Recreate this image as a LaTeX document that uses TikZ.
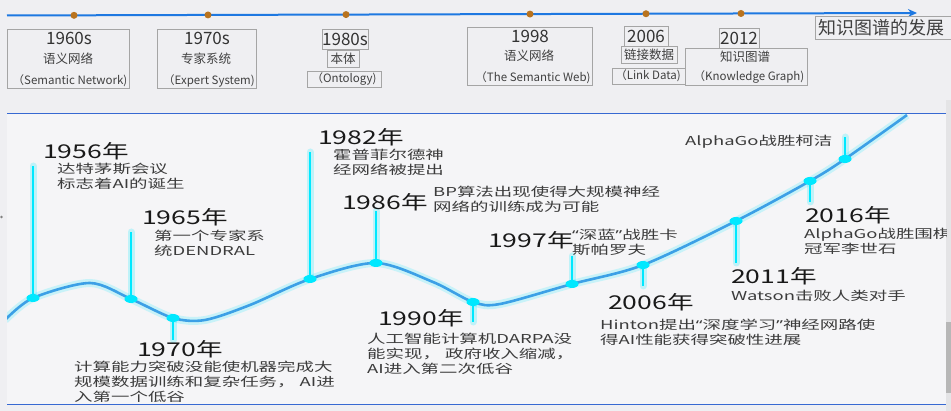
\documentclass[tikz,border=0pt]{standalone}
\usepackage{fontspec}
\setmainfont{Noto Sans CJK SC}
\newfontfamily\widefont[FakeStretch=1.5]{Noto Sans CJK SC}
\newfontfamily\yearfont[FakeStretch=1.4]{Noto Sans CJK SC}
\newfontfamily\quotefont[FakeStretch=1.5]{Noto Sans}
\newcommand\openq{{\quotefont “}}
\newcommand\closeq{{\quotefont ”}}
\usetikzlibrary{arrows.meta,shapes.geometric}
\definecolor{bgtop}{RGB}{239,239,242}
\definecolor{bgpanel}{RGB}{245,245,247}
\definecolor{boxgray}{RGB}{165,165,165}
\definecolor{lineblue}{RGB}{30,120,225}
\definecolor{panelblue}{RGB}{55,105,210}
\definecolor{dotbrown}{RGB}{185,115,30}
\definecolor{curveblue}{RGB}{60,160,230}
\definecolor{stemcyan}{RGB}{0,232,255}
\definecolor{txtgray}{RGB}{60,60,60}
\definecolor{stripgray}{RGB}{228,228,230}
\begin{document}
\begin{tikzpicture}[
    x=1pt, y=-1pt,
    framebox/.style={draw=boxgray, line width=0.8pt, inner sep=0pt},
    eralbl/.style={inner sep=0pt, text=black!80, font=\fontsize{17}{18}\selectfont},
    cnlbl/.style={inner sep=0pt, text=black!75, font=\fontsize{12.5}{13}\selectfont},
    enlbl/.style={inner sep=0pt, text=black!75, font=\fontsize{11.5}{12}\selectfont},
    topdot/.style={circle, fill=dotbrown, inner sep=0pt, minimum size=7pt},
    yearlbl/.style={anchor=west, inner sep=0pt, text=black!90, font=\yearfont\fontsize{19}{20}\selectfont},
    caption/.style={anchor=north west, inner sep=0pt, align=left, text=txtgray, font=\widefont\fontsize{12.3}{15}\selectfont},
    glow/.style={line width=7pt, stemcyan, opacity=0.22, line cap=round},
    stem/.style={line width=2.8pt, stemcyan},
    cdot/.style={ellipse, fill=stemcyan, inner sep=0pt, minimum width=13pt, minimum height=8pt}
]
% background
\useasboundingbox[fill=bgtop] (0,0) rectangle (951,411);
\fill[bgpanel] (7,114) rectangle (946,405);
\fill[stripgray] (946,100) rectangle (951,411);
\fill[boxgray!80] (946,322) rectangle (951,393);
\fill[gray] (1.5,217) circle (1.3);
\draw[panelblue, line width=1pt] (7,114) -- (946,114);
\draw[panelblue, line width=1pt] (7,405) -- (946,405);

% upper time line
\coordinate (tl0) at (7,15.5);
\coordinate (tl1) at (917,13);
\draw[lineblue, line width=2pt, -{Stealth[length=9pt,width=8pt]}] (tl0) -- (tl1);
\foreach \name/\px in {1960/74, 1970/208, 1980/346, 1998/530, 2006/646, 2012/741}
    \node[topdot] (o\name) at (\px,{15.5-2.5*(\px-7)/910}) {};

% upper boxes
\node[framebox, minimum width=122pt, minimum height=59pt] (b1960) at (68,58.5) {};
\node[eralbl] (e1960) at (69,38.5) {1960s};
\node[cnlbl] (z1960) at (68,59) {语义网络};
\node[enlbl] (n1960) at (70,80.5) {（Semantic Network)};

\node[framebox, minimum width=99pt, minimum height=59pt] (b1970) at (206.5,58.5) {};
\node[eralbl] (e1970) at (207,38.5) {1970s};
\node[cnlbl] (z1970) at (206,59) {专家系统};
\node[enlbl] (n1970) at (209,80.5) {（Expert System)};

\node[framebox, minimum width=46pt, minimum height=20pt] (b1980) at (345,39) {};
\node[eralbl] (e1980) at (345,39) {1980s};
\node[framebox, minimum width=32pt, minimum height=17pt] (c1980) at (343,58.5) {};
\node[cnlbl] (z1980) at (343,58.5) {本体};
\node[framebox, minimum width=74pt, minimum height=16pt] (d1980) at (344,79) {};
\node[enlbl] (n1980) at (344,79) {（Ontology)};

\node[framebox, minimum width=125pt, minimum height=58pt] (b1998) at (529.5,56) {};
\node[eralbl] (e1998) at (530,36) {1998};
\node[cnlbl] (z1998) at (529,56) {语义网络};
\node[enlbl] (n1998) at (533,78) {（The Semantic Web)};

\node[framebox, minimum width=44pt, minimum height=20pt] (b2006) at (646,36) {};
\node[eralbl] (e2006) at (646,36) {2006};
\node[framebox, minimum width=56pt, minimum height=17pt] (c2006) at (649,54.5) {};
\node[cnlbl] (z2006) at (649,54.5) {链接数据};
\node[framebox, minimum width=73pt, minimum height=16pt] (d2006) at (648.5,76) {};
\node[enlbl] (n2006) at (648,76) {（Link Data)};

\node[framebox, minimum width=40pt, minimum height=20pt] (b2012) at (739,38) {};
\node[eralbl] (e2012) at (739,38) {2012};
\node[framebox, minimum width=122pt, minimum height=37pt] (c2012) at (746,66.5) {};
\node[cnlbl] (z2012) at (745,57) {知识图谱};
\node[enlbl] (n2012) at (749,77.5) {（Knowledge Graph)};

\node[framebox, anchor=north west, minimum width=140pt, minimum height=23pt] (title) at (815,16) {};
\node[anchor=west, inner sep=0pt, text=black!75, font=\fontsize{18}{19}\selectfont] (ttext) at (818,27.5) {知识图谱的发展};

% lower panel
\begin{scope}
\clip (7,114) rectangle (946,405);
\foreach \name/\px/\py in {1956/33/298, 1965/131/299, 1970/173/318, 1982/310/279,
    1986/376/263, 1990/473/302, 1997/572/284, 2006/643/265, 2011/736/221,
    2016/810/181, 2017/845/159}
    \coordinate (p\name) at (\px,\py);
\foreach \name/\px/\py in {1956/33/166, 1965/131/232, 1970/173/340, 1982/310/152,
    1986/376/211, 1990/473/322, 1997/572/256, 2006/643/286, 2011/736/263,
    2016/810/202, 2017/845/137}
    \coordinate (s\name) at (\px,\py);
\coordinate (c0) at (5,320);
\coordinate (c1) at (907,115);

% glow curve
\draw[line width=8pt, stemcyan, opacity=0.18] plot[smooth] coordinates {(c0) (p1956) (90,283) (p1965) (p1970) (205,320) (250,305) (p1982) (p1986) (433,282) (p1990) (500,304) (p1997) (p2006) (p2011) (p2016) (p2017) (c1)};
\draw[line width=2.6pt, curveblue] plot[smooth] coordinates {(c0) (p1956) (90,283) (p1965) (p1970) (205,320) (250,305) (p1982) (p1986) (433,282) (p1990) (500,304) (p1997) (p2006) (p2011) (p2016) (p2017) (c1)};

\foreach \name in {1956,1965,1970,1982,1986,1990,1997,2006,2011,2016,2017} {
    \draw[glow] (p\name) -- (s\name);
    \draw[stem] (p\name) -- (s\name);
    \node[cdot] (d\name) at (p\name) {};
}

% events
\node[yearlbl] (h1956) at (43,151) {1956年};
\node[caption] (t1956) at (57,163) {达特茅斯会议\\标志着AI的诞生};

\node[yearlbl] (h1965) at (142,217) {1965年};
\node[caption] (t1965) at (154,230) {第一个专家系\\统DENDRAL};

\node[yearlbl] (h1970) at (137,349) {1970年};
\node[caption] (t1970) at (74,361) {计算能力突破没能使机器完成大\\规模数据训练和复杂任务， AI进\\入第一个低谷};

\node[yearlbl] (h1982) at (318,137) {1982年};
\node[caption] (t1982) at (333,149) {霍普菲尔德神\\经网络被提出};

\node[yearlbl] (h1986) at (342,202) {1986年};
\node[caption] (t1986) at (433,186) {BP算法出现使得大规模神经\\网络的训练成为可能};

\node[yearlbl] (h1997) at (488,240) {1997年};
\node[caption] (t1997) at (572,229) {\openq 深蓝\closeq 战胜卡\\斯帕罗夫};

\node[yearlbl] (h1990) at (378,318) {1990年};
\node[caption] (t1990) at (367,333) {人工智能计算机DARPA没\\能实现， 政府收入缩减，\\AI进入第二次低谷};

\node[yearlbl] (h2006) at (608,302) {2006年};
\node[caption] (t2006) at (600,319) {Hinton提出\openq 深度学习\closeq 神经网路使\\得AI性能获得突破性进展};

\node[yearlbl] (h2011) at (731,276) {2011年};
\node[caption] (t2011) at (731,290) {Watson击败人类对手};

\node[yearlbl] (h2016) at (805,215) {2016年};
\node[caption] (t2016) at (804,228) {AlphaGo战胜围棋\\冠军李世石};

\node[caption, anchor=west] (t2017) at (685,142) {AlphaGo战胜柯洁};
\end{scope}
\end{tikzpicture}
\end{document}
